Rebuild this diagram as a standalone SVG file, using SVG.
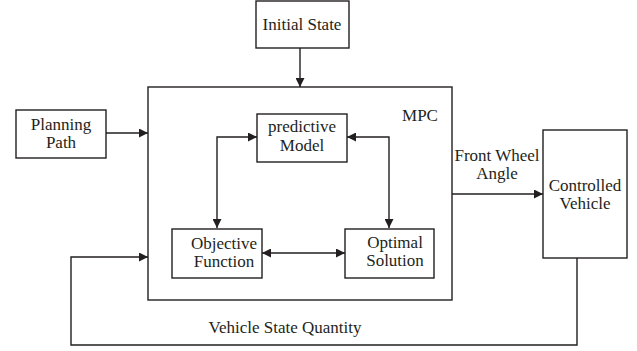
<svg xmlns="http://www.w3.org/2000/svg" width="637" height="351" viewBox="0 0 637 351">
<style>
.box{fill:#fff;stroke:#231f20;stroke-width:1.4}
.ln{fill:none;stroke:#231f20;stroke-width:1.4}
text{font-family:"Liberation Serif","Times New Roman",serif;font-size:17px;fill:#231f20}
.c{text-anchor:middle}
</style>
<defs>
<marker id="ah" viewBox="0 0 10 10" refX="10" refY="5" markerWidth="9" markerHeight="9" markerUnits="userSpaceOnUse" orient="auto-start-reverse">
<path d="M0,0 L10,5 L0,10 z" fill="#231f20"/>
</marker>
</defs>
<g id="mpc">
<rect class="box" x="148" y="87" width="304" height="213"/>
<text x="420" y="121" class="c">MPC</text>
</g>
<g id="initial-state">
<rect class="box" x="256" y="1" width="93" height="47"/>
<text x="302" y="30" class="c">Initial State</text>
</g>
<g id="planning-path">
<rect class="box" x="16" y="110" width="90" height="48"/>
<text x="61" y="130" class="c">Planning</text>
<text x="61" y="148" class="c">Path</text>
</g>
<g id="predictive-model">
<rect class="box" x="257" y="114" width="90" height="48"/>
<text x="302" y="132" class="c">predictive</text>
<text x="302" y="151" class="c">Model</text>
</g>
<g id="objective-function">
<rect class="box" x="172" y="229" width="90" height="49"/>
<text x="224" y="249" class="c">Objective</text>
<text x="224" y="267" class="c">Function</text>
</g>
<g id="optimal-solution">
<rect class="box" x="345" y="229" width="89" height="49"/>
<text x="395" y="248" class="c">Optimal</text>
<text x="395" y="266" class="c">Solution</text>
</g>
<g id="controlled-vehicle">
<rect class="box" x="543" y="130" width="84" height="128"/>
<text x="585" y="191" class="c">Controlled</text>
<text x="585" y="209" class="c">Vehicle</text>
</g>
<g id="connectors">
<path class="ln" d="M300,48 V87" marker-end="url(#ah)"/>
<path class="ln" d="M106,133 H148" marker-end="url(#ah)"/>
<path class="ln" d="M217,228 V137 H257" marker-start="url(#ah)" marker-end="url(#ah)"/>
<path class="ln" d="M347,137 H389 V228" marker-start="url(#ah)" marker-end="url(#ah)"/>
<path class="ln" d="M262,253 H345" marker-start="url(#ah)" marker-end="url(#ah)"/>
<path class="ln" d="M452,194 H543" marker-end="url(#ah)"/>
<path class="ln" d="M577,258 V345 H71 V257 H148" marker-end="url(#ah)"/>
<text x="497" y="161" class="c">Front Wheel</text>
<text x="497" y="179" class="c">Angle</text>
<text x="285" y="333" class="c">Vehicle State Quantity</text>
</g>
</svg>
